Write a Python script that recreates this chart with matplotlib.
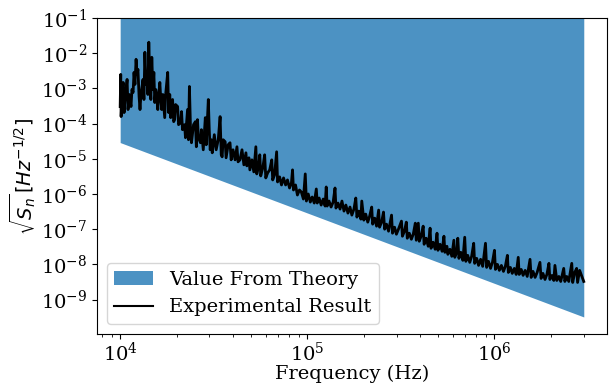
import numpy as np
import matplotlib
matplotlib.use('Agg')
import matplotlib.pyplot as plt
from matplotlib.ticker import NullLocator

plt.rcParams['font.family'] = 'serif'

# theory band: lower bound line, filled up to the top of the plot
theory_freq = [1e4, 3e6]
theory_low = [2.9e-5, 3.2e-10]
theory_high = [1e-1, 1e-1]

# experimental spectrum (log10 of Hz and of Hz^-1/2)
log_freq = [
    4.000, 4.003, 4.005, 4.011, 4.016, 4.021, 4.026, 4.037, 4.042, 4.048,
    4.058, 4.063, 4.069, 4.074, 4.079, 4.085, 4.090, 4.095, 4.101, 4.106,
    4.111, 4.122, 4.127, 4.132, 4.138, 4.143, 4.148, 4.153, 4.159, 4.164,
    4.169, 4.175, 4.180, 4.185, 4.190, 4.196, 4.201, 4.206, 4.212, 4.217,
    4.222, 4.228, 4.233, 4.238, 4.243, 4.254, 4.259, 4.265, 4.270, 4.280,
    4.286, 4.291, 4.296, 4.307, 4.312, 4.323, 4.328, 4.333, 4.344, 4.349,
    4.360, 4.365, 4.370, 4.376, 4.381, 4.392, 4.402, 4.407, 4.413, 4.418,
    4.429,
    4.434, 4.444, 4.455, 4.460, 4.471, 4.476, 4.481, 4.487, 4.492, 4.503,
    4.513, 4.524, 4.534, 4.540, 4.545, 4.550, 4.561, 4.566, 4.577, 4.587,
    4.593, 4.603, 4.614, 4.624, 4.630, 4.640, 4.651, 4.661, 4.672, 4.677,
    4.688, 4.693, 4.704, 4.714, 4.725, 4.730, 4.741, 4.746, 4.751, 4.762,
    4.772, 4.778, 4.788, 4.799, 4.810, 4.815, 4.825, 4.836, 4.841, 4.852,
    4.862, 4.873, 4.884, 4.894, 4.905, 4.915, 4.921, 4.926, 4.937, 4.947,
    4.958,
    4.968, 4.979, 4.989, 4.995, 5.005, 5.016, 5.026, 5.037, 5.048, 5.053,
    5.063, 5.074, 5.085, 5.095, 5.101, 5.106, 5.116, 5.127, 5.138, 5.148,
    5.153, 5.164, 5.175, 5.185, 5.196, 5.206, 5.217, 5.228, 5.238, 5.249,
    5.259, 5.265, 5.275, 5.286, 5.291, 5.302, 5.312, 5.323, 5.333, 5.344,
    5.349, 5.360, 5.370, 5.381, 5.386, 5.397, 5.407, 5.413, 5.423, 5.434,
    5.450, 5.455, 5.466, 5.476, 5.487, 5.503, 5.508, 5.519, 5.529, 5.534,
    5.545, 5.556, 5.566, 5.577, 5.582, 5.593, 5.598, 5.608, 5.619, 5.624,
    5.635, 5.646, 5.656, 5.661, 5.672, 5.683, 5.693, 5.698, 5.709, 5.720,
    5.730, 5.735, 5.746, 5.751,
    5.762, 5.772, 5.783, 5.788, 5.799, 5.804, 5.810, 5.820, 5.831, 5.841,
    5.847, 5.857, 5.868, 5.878, 5.889, 5.894, 5.905, 5.915, 5.926, 5.937,
    5.952, 5.958, 5.968, 5.979, 5.989, 6.000, 6.005, 6.016, 6.026, 6.037,
    6.048, 6.058, 6.069, 6.074, 6.085, 6.095, 6.106, 6.116, 6.127, 6.132,
    6.143, 6.153, 6.164, 6.175, 6.190, 6.196, 6.206, 6.217, 6.228, 6.243,
    6.249, 6.259, 6.270, 6.280, 6.291, 6.296, 6.307, 6.317, 6.323, 6.333,
    6.344, 6.354, 6.370, 6.376, 6.386, 6.397, 6.413, 6.418, 6.429, 6.439,
    6.444, 6.455, 6.477,
]
log_asd = [
    -3.514, -2.600, -3.800, -3.171, -2.829, -3.686, -3.314, -2.743, -3.600, -3.171,
    -3.514, -3.029, -3.114, -2.543, -2.886, -2.171, -2.600, -2.457, -3.229, -3.600,
    -3.171, -2.743, -3.314, -1.971, -2.886, -2.657, -3.171, -1.686, -2.829, -3.314,
    -2.114, -3.029, -2.543, -3.400, -3.029, -3.229, -3.600, -3.171, -2.829, -3.314,
    -3.600, -3.171, -3.514, -3.829, -3.171, -2.543, -3.686, -3.171, -3.829, -3.314,
    -3.943, -3.886, -3.457, -3.514, -4.029, -3.971, -3.657, -4.171, -4.029, -4.400,
    -3.600, -4.457, -2.943, -4.171, -4.543, -4.029, -3.943, -4.657, -3.886, -4.400,
    -4.543,
    -4.171, -4.743, -3.829, -4.600, -3.314, -4.171, -4.743, -4.457, -4.829, -4.314,
    -4.743, -4.457, -3.800, -4.886, -4.943, -4.457, -4.514, -4.971, -4.600, -4.543,
    -5.029, -4.743, -5.029, -4.657, -5.086, -5.029, -4.743, -5.171, -4.829, -5.200,
    -4.971, -5.314, -5.029, -5.371, -4.657, -5.429, -5.171, -4.886, -5.486, -5.257,
    -4.886, -5.543, -5.400, -5.314, -5.029, -5.600, -5.457, -4.800, -5.657, -5.514,
    -5.743, -5.543, -5.743, -5.600, -5.829, -5.686, -5.314, -5.886, -5.743, -6.029,
    -5.886,
    -5.943, -6.143, -5.429, -6.200, -6.000, -6.229, -6.086, -6.257, -5.857, -6.257,
    -6.114, -6.314, -6.143, -6.343, -5.800, -6.343, -6.200, -6.371, -6.229, -5.829,
    -6.400, -6.257, -6.429, -6.200, -6.486, -6.314, -6.543, -6.371, -6.600, -6.429,
    -6.114, -6.657, -6.486, -6.714, -6.200, -6.743, -6.571, -6.800, -6.629, -6.371,
    -6.857, -6.686, -6.914, -6.457, -6.943, -6.800, -6.514, -7.000, -6.857, -7.057,
    -6.600, -7.114, -6.943, -7.143, -7.000, -6.771, -7.200, -7.057, -6.800, -7.257,
    -7.114, -7.286, -7.143, -6.829, -7.314, -6.829, -7.343, -7.200, -6.914, -7.429,
    -7.257, -7.486, -6.971, -7.543, -7.371, -7.571, -7.114, -7.600, -7.429, -7.629,
    -7.200, -7.657, -7.486, -7.714,
    -7.571, -7.771, -7.314, -7.800, -7.629, -7.257, -7.829, -7.657, -7.886, -7.229,
    -7.914, -7.743, -7.943, -7.771, -7.400, -7.971, -7.829, -8.029, -7.857, -8.057,
    -7.400, -8.086, -7.914, -8.114, -7.943, -7.600, -8.143, -8.000, -8.171, -8.029,
    -8.200, -8.057, -7.743, -8.229, -8.086, -8.257, -8.114, -8.286, -7.800, -8.286,
    -8.143, -8.314, -8.171, -8.343, -7.857, -8.371, -8.200, -8.371, -8.229, -7.943,
    -8.400, -8.257, -8.429, -8.286, -7.971, -8.429, -8.314, -8.457, -8.029, -8.457,
    -8.343, -8.486, -8.114, -8.486, -8.343, -8.486, -7.971, -8.514, -8.229, -8.114,
    -8.514, -8.171, -8.486,
]

freq = 10**np.array(log_freq)
asd = 10**np.array(log_asd)

fig, ax = plt.subplots(figsize=(6.1, 3.85), dpi=100, facecolor='white')
fig.subplots_adjust(left=0.159, right=0.995, bottom=0.1325, top=0.953)

ax.fill_between(theory_freq, theory_low, theory_high, color='tab:blue', alpha=0.8,
                lw=0, label='Value From Theory')
ax.plot(freq, asd, c='k', lw=2, label='Experimental Result')

ax.set_xscale('log')
ax.set_yscale('log')
ax.set_ylim(1.05e-10, 1e-1)
ax.set_yticks([10.0**k for k in range(-9, 0)])
ax.yaxis.set_minor_locator(NullLocator())

ax.set_xlabel('Frequency (Hz)', fontsize=14, labelpad=0)
ax.set_ylabel(r'$\sqrt{S_n}\,[Hz^{-1/2}]$', fontsize=14, labelpad=2)
ax.tick_params(labelsize=14)
ax.tick_params(axis='x', pad=2)
leg = ax.legend(loc='lower left', fontsize=14)
leg.get_lines()[0].set_linewidth(1.5)

plt.savefig('out.png', dpi=100)
